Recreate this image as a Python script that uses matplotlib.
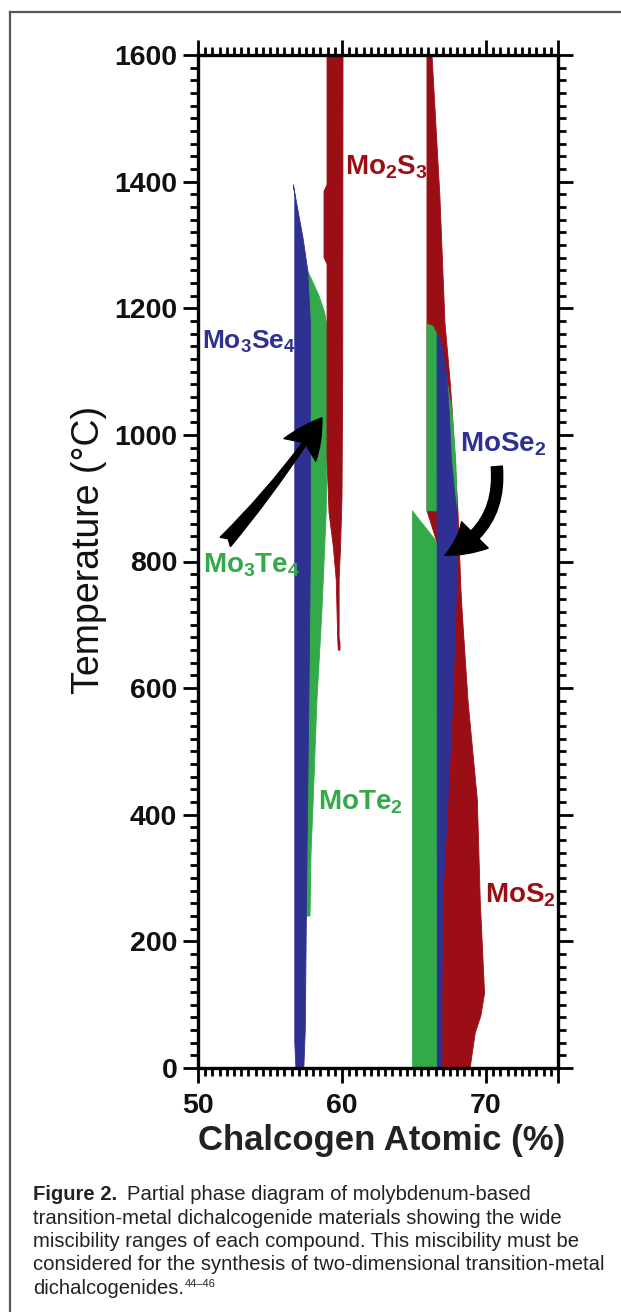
import matplotlib
matplotlib.use("Agg")
import matplotlib.pyplot as plt
from matplotlib.patches import FancyArrowPatch, Polygon
from matplotlib.lines import Line2D
from matplotlib.ticker import MultipleLocator

plt.rcParams['font.family'] = ['Liberation Sans', 'DejaVu Sans']
plt.rcParams['mathtext.fontset'] = 'custom'
plt.rcParams['mathtext.rm'] = 'Liberation Sans:bold'
plt.rcParams['mathtext.it'] = 'Liberation Sans:bold'
plt.rcParams['mathtext.bf'] = 'Liberation Sans:bold'

BLUE = '#2e3192'
GREEN = '#33a94a'
RED = '#9b0e16'

# phase fields: chalcogen at.% vs temperature (C)
mo3se4_x = [56.62, 56.9, 57.3, 57.62, 57.8, 57.8, 57.7, 57.55, 57.45, 57.35, 56.8, 56.72, 56.72]
mo3se4_t = [1395, 1360, 1310, 1260, 1180, 800, 580, 300, 60, 0, 0, 40, 1380]

mo3te4_x = [57.55, 57.9, 58.4, 58.8, 58.96, 58.96, 58.9, 58.6, 58.26, 58.0, 57.85, 57.78, 57.5]
mo3te4_t = [1262, 1245, 1220, 1193, 1170, 981, 877, 719, 581, 423, 340, 240, 240]

mo2s3_x = [58.96, 60.07, 60.05, 60.0, 59.9, 59.8, 59.8, 59.86, 59.86, 59.74, 59.7, 59.6, 59.4,
           59.1, 58.96, 58.96, 58.75, 58.75, 58.96]
mo2s3_t = [1600, 1600, 1100, 900, 823, 771, 680, 672, 660, 660, 680, 771, 823,
           877, 960, 1270, 1280, 1385, 1395]

mos2_x = [65.9, 66.25, 66.8, 67.15, 67.5, 67.65, 67.85, 68.05, 68.15, 68.25, 68.35, 68.75,
          69.4, 69.6, 69.9, 69.65, 69.25, 68.9, 66.8, 66.6, 65.9]
mos2_t = [1600, 1600, 1376, 1177, 1087, 1040, 960, 880, 823, 760, 719, 580,
          423, 265, 118, 83, 55, 0, 0, 830, 880]

mote2_hi_x = [65.9, 66.3, 66.8, 67.3, 67.65, 67.9, 67.98, 67.9, 65.9]
mote2_hi_t = [1175, 1172, 1150, 1085, 1035, 960, 900, 880, 880]

mote2_lo_x = [64.9, 64.95, 66.62, 66.62, 64.9]
mote2_lo_t = [880, 878, 830, 0, 0]

mose2_x = [66.6, 66.85, 67.1, 67.3, 67.45, 67.6, 67.95, 68.05, 67.9, 67.7, 67.36, 67.0,
           66.94, 66.94, 66.62]
mose2_t = [1160, 1150, 1120, 1087, 1035, 960, 880, 823, 719, 581, 423, 265,
           118, 0, 0]

y_ticks = [0, 200, 400, 600, 800, 1000, 1200, 1400, 1600]
x_ticks = [50, 60, 70, 75]
x_tick_labels = ['50', '60', '70', '']

fig = plt.figure(figsize=(6.21, 13.12), dpi=100)
W, H = 621, 1312
ax = fig.add_axes([198 / W, 1 - 1068 / H, 360 / W, 1013 / H])

fields = [
    (mo3te4_x, mo3te4_t, GREEN),
    (mo3se4_x, mo3se4_t, BLUE),
    (mo2s3_x, mo2s3_t, RED),
    (mos2_x, mos2_t, RED),
    (mote2_hi_x, mote2_hi_t, GREEN),
    (mote2_lo_x, mote2_lo_t, GREEN),
    (mose2_x, mose2_t, BLUE),
]
for xs, ts, c in fields:
    ax.add_patch(Polygon(list(zip(xs, ts)), closed=True, facecolor=c, edgecolor=c, lw=0.6))

ax.set_xlim(50, 75)
ax.set_ylim(0, 1600)
ax.set_xticks(x_ticks)
ax.set_xticklabels(x_tick_labels)
ax.set_yticks(y_ticks)
ax.xaxis.set_minor_locator(MultipleLocator(0.5))
ax.yaxis.set_minor_locator(MultipleLocator(20))
ax.tick_params(which='both', direction='out', top=True, right=True, width=2.0, color='black')
ax.tick_params(which='major', length=11, labelsize=20.5, pad=4)
ax.tick_params(axis='x', which='major', pad=7)
ax.tick_params(which='minor', length=5.5)
for lab in ax.get_xticklabels() + ax.get_yticklabels():
    lab.set_fontweight('bold')
    lab.set_color('#111111')
for s in ax.spines.values():
    s.set_linewidth(2.4)

ax.set_ylabel('Temperature (°C)', fontsize=27, color='#111111')
ax.yaxis.label.set_va('center')
ax.yaxis.set_label_coords(-0.303, 0.511)
ax.set_xlabel('Chalcogen Atomic (%)', fontsize=25, fontweight='bold', color='#222222')
ax.xaxis.label.set_va('center')
ax.xaxis.set_label_coords(0.511, -0.072)

lab_kw = dict(fontsize=20, fontweight='bold', va='baseline', ha='left')
ax.text(50.3, 1136, r'Mo$_3$Se$_4$', color=BLUE, fontsize=19, fontweight='bold',
        va='baseline', ha='left')
ax.text(50.35, 782, r'Mo$_3$Te$_4$', color=GREEN, **lab_kw)
ax.text(60.2, 1412, r'Mo$_2$S$_3$', color=RED, **lab_kw)
ax.text(68.2, 973, r'MoSe$_2$', color=BLUE, **lab_kw)
ax.text(58.33, 408, r'MoTe$_2$', color=GREEN, **lab_kw)
ax.text(69.93, 261, r'MoS$_2$', color=RED, **lab_kw)

ax.add_patch(FancyArrowPatch((51.9, 831), (58.6, 1027),
                             arrowstyle='fancy,head_length=1.4,head_width=1.4,tail_width=0.5',
                             mutation_scale=20, connectionstyle='arc3,rad=0.04',
                             color='black', shrinkA=0, shrinkB=0, zorder=5))
ax.add_patch(FancyArrowPatch((70.75, 950), (67.15, 810),
                             arrowstyle='simple,head_length=1.3,head_width=1.35,tail_width=0.4',
                             mutation_scale=20, connectionstyle='arc3,rad=-0.35',
                             color='black', shrinkA=0, shrinkB=0, zorder=5))

# frame around the figure (left and top edges visible)
fig.add_artist(Line2D([10 / W, 10 / W], [0, 1 - 12 / H], color='#555555', lw=1.6))
fig.add_artist(Line2D([10 / W, 1], [1 - 12 / H, 1 - 12 / H], color='#555555', lw=1.6))

# caption
r = fig.canvas.get_renderer()
cap_kw = dict(fontsize=14.6, color='#222222', va='baseline', ha='left')
x0 = 33 / W
baselines = [1200, 1223.5, 1247, 1270.5, 1294]
lines = [
    'Partial phase diagram of molybdenum-based',
    'transition-metal dichalcogenide materials showing the wide',
    'miscibility ranges of each compound. This miscibility must be',
    'considered for the synthesis of two-dimensional transition-metal',
    'dichalcogenides.',
]
inv = fig.transFigure.inverted()
t0 = fig.text(x0, 1 - baselines[0] / H, 'Figure 2.', fontweight='bold', **cap_kw)
bb = t0.get_window_extent(renderer=r)
fig.text(inv.transform((bb.x1, 0))[0] + 10 / W, 1 - baselines[0] / H, lines[0], **cap_kw)
for yb, s in zip(baselines[1:], lines[1:]):
    t = fig.text(x0, 1 - yb / H, s, **cap_kw)
bb = t.get_window_extent(renderer=r)
fig.text(inv.transform((bb.x1, 0))[0] + 1 / W, 1 - (baselines[-1] - 7) / H, '44–46',
         fontsize=8, color='#222222', va='baseline', ha='left')

fig.savefig('out.png', dpi=100)
